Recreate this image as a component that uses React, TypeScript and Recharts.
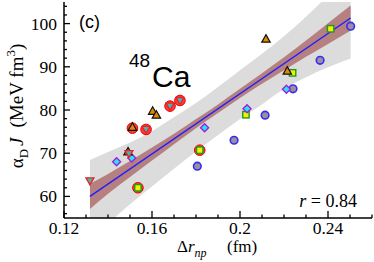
import React from "react";
import { ComposedChart, XAxis, YAxis, Area, Line, Scatter } from "recharts";

// axis ticks
const xTicks = [0.12, 0.13, 0.14, 0.15, 0.16, 0.17, 0.18, 0.19, 0.2, 0.21, 0.22, 0.23, 0.24, 0.25, 0.26];
const xMajor = [0.12, 0.16, 0.2, 0.24];
const yTicks = [56, 58, 60, 62, 64, 66, 68, 70, 72, 74, 76, 78, 80, 82, 84, 86, 88, 90, 92, 94, 96, 98, 100, 102, 104];
const yMajor = [60, 70, 80, 90, 100];

// confidence bands
const bandX = [0.1318, 0.14, 0.15, 0.16, 0.17, 0.18, 0.19, 0.2, 0.21, 0.22, 0.23, 0.24, 0.2503];
const greyLo = [50.0, 53.7, 58.2, 62.3, 66.4, 70.4, 74.2, 77.9, 81.3, 84.9, 87.6, 89.9, 91.9];
const greyHi = [68.4, 70.3, 72.5, 75.1, 78.3, 81.6, 85.3, 89.2, 93.0, 97.1, 101.6, 106.5, 111.5];
const brownLo = [57.1, 60.6, 64.5, 68.3, 72.1, 75.8, 79.3, 82.8, 86.1, 89.2, 92.3, 95.3, 98.4];
const brownHi = [62.9, 65.2, 68.2, 71.3, 74.5, 77.9, 81.3, 84.9, 88.5, 92.2, 96.1, 100.1, 104.2];

// linear fit
const fitX = [0.1318, 0.2503];
const fitY = [60.0, 101.3];

// models
const redRing = [
  { x: 0.1511, y: 75.8 }, { x: 0.1573, y: 75.5 }, { x: 0.1682, y: 80.9 },
  { x: 0.1727, y: 82.2 }, { x: 0.1536, y: 62.0 }, { x: 0.1817, y: 70.7 },
];
const blueCircles = [
  { x: 0.1806, y: 67.0 }, { x: 0.1973, y: 73.0 }, { x: 0.2114, y: 78.8 },
  { x: 0.2241, y: 84.9 }, { x: 0.2364, y: 91.5 }, { x: 0.2503, y: 99.4 },
];
const squares = [
  { x: 0.1536, y: 62.0 }, { x: 0.1817, y: 70.7 }, { x: 0.2027, y: 78.9 },
  { x: 0.2239, y: 88.6 }, { x: 0.2412, y: 98.8 },
];
const diamonds = [
  { x: 0.1439, y: 68.0 }, { x: 0.1508, y: 68.9 }, { x: 0.1839, y: 75.9 },
  { x: 0.2032, y: 80.3 }, { x: 0.2211, y: 84.8 },
];
const upTriangles = [
  { x: 0.1491, y: 70.3 }, { x: 0.1511, y: 76.0 }, { x: 0.1603, y: 79.7 },
  { x: 0.162, y: 78.8 }, { x: 0.2118, y: 96.4 }, { x: 0.2215, y: 89.0 },
];
const downTriangles = [
  { x: 0.1318, y: 63.6 }, { x: 0.1495, y: 69.9 }, { x: 0.1573, y: 75.5 },
  { x: 0.1682, y: 80.9 }, { x: 0.1727, y: 82.2 },
];

const bandRows = bandX.map((x, i) => ({
  x,
  grey: [greyLo[i], greyHi[i]],
  brown: [brownLo[i], brownHi[i]],
}));
const fitLine = fitX.map((x, i) => ({ x, y: fitY[i] }));

const serif = "'Liberation Serif', 'Times New Roman', serif";
const sans = "'Liberation Sans', Arial, sans-serif";

const isMajorX = (v: number) => xMajor.some((m) => Math.abs(m - v) < 1e-6);
const isMajorY = (v: number) => yMajor.includes(v);

const BottomTick = (p: any) => {
  const v = Number(p.payload.value);
  const major = isMajorX(v);
  return (
    <g>
      <line x1={p.x} x2={p.x} y1={p.y} y2={p.y - (major ? 7 : 3.5)} stroke="#000" strokeWidth={1.3} />
      {major && (
        <text x={p.x} y={p.y + 16} textAnchor="middle" style={{ fontFamily: serif }} fontSize={17.5} fill="#000">
          {String(+v.toFixed(2))}
        </text>
      )}
    </g>
  );
};

const TopTick = (p: any) => {
  const major = isMajorX(Number(p.payload.value));
  return <line x1={p.x} x2={p.x} y1={p.y} y2={p.y + (major ? 7 : 3.5)} stroke="#000" strokeWidth={1.3} />;
};

const LeftTick = (p: any) => {
  const v = Number(p.payload.value);
  const major = isMajorY(v);
  return (
    <g>
      <line x1={p.x} x2={p.x + (major ? 6 : 3)} y1={p.y} y2={p.y} stroke="#000" strokeWidth={1.3} />
      {major && (
        <text x={p.x - 7} y={p.y + 6} textAnchor="end" style={{ fontFamily: serif }} fontSize={17.5} fill="#000">
          {v}
        </text>
      )}
    </g>
  );
};

const RightTick = (p: any) => {
  const major = isMajorY(Number(p.payload.value));
  return <line x1={p.x} x2={p.x - (major ? 6 : 3)} y1={p.y} y2={p.y} stroke="#000" strokeWidth={1.3} />;
};

const RedRing = (p: any) => <circle cx={p.cx} cy={p.cy} r={5.3} fill="#ff3a3a" stroke="#e60000" strokeWidth={1} />;
const BlueCircle = (p: any) => <circle cx={p.cx} cy={p.cy} r={3.8} fill="#a08d9e" stroke="#2f2ff5" strokeWidth={1.6} />;
const Square = (p: any) => (
  <rect x={p.cx - 3.2} y={p.cy - 3.2} width={6.4} height={6.4} fill="#f2f200" stroke="#1f9a1f" strokeWidth={1.4} />
);
const Diamond = (p: any) => (
  <polygon
    points={`${p.cx},${p.cy - 4} ${p.cx + 4},${p.cy} ${p.cx},${p.cy + 4} ${p.cx - 4},${p.cy}`}
    fill="#22e8f0" stroke="#a020e0" strokeWidth={1.4}
  />
);
const UpTri = (p: any) => (
  <polygon
    points={`${p.cx},${p.cy - 4.5} ${p.cx + 4.2},${p.cy + 3} ${p.cx - 4.2},${p.cy + 3}`}
    fill="#e08a00" stroke="#111" strokeWidth={1.2}
  />
);
const DownTri = (p: any) => (
  <polygon
    points={`${p.cx - 4},${p.cy - 3} ${p.cx + 4},${p.cy - 3} ${p.cx},${p.cy + 4}`}
    fill="#3fb8b8" stroke="#f02020" strokeWidth={1.3}
  />
);

export default function App() {
  return (
    <div style={{ position: "absolute", left: 0, top: 0, width: 374, height: 262, background: "#fff" }}>
      <ComposedChart width={374} height={262} data={bandRows} margin={{ top: 2, right: 2, bottom: 0, left: 14 }}>
        <XAxis
          xAxisId="b" type="number" dataKey="x" domain={[0.12, 0.26]} ticks={xTicks} interval={0}
          allowDataOverflow height={44} tickSize={0} tickMargin={0} tickLine={false}
          axisLine={{ stroke: "#000", strokeWidth: 1.5 }} tick={BottomTick}
        />
        <XAxis
          xAxisId="t" orientation="top" type="number" dataKey="x" domain={[0.12, 0.26]} ticks={xTicks} interval={0}
          allowDataOverflow height={0} tickSize={0} tickMargin={0} tickLine={false}
          axisLine={{ stroke: "#000", strokeWidth: 1.5 }} tick={TopTick}
        />
        <YAxis
          yAxisId="l" type="number" dataKey="y" domain={[55, 105]} ticks={yTicks} interval={0}
          allowDataOverflow width={50} tickSize={0} tickMargin={0} tickLine={false}
          axisLine={{ stroke: "#000", strokeWidth: 1.5 }} tick={LeftTick}
        />
        <YAxis
          yAxisId="r" orientation="right" type="number" domain={[55, 105]} ticks={yTicks} interval={0}
          allowDataOverflow width={0} tickSize={0} tickMargin={0} tickLine={false}
          axisLine={{ stroke: "#000", strokeWidth: 1.5 }} tick={RightTick}
        />
        <Area xAxisId="b" yAxisId="l" dataKey="grey" type="monotone" fill="#dcdcdc" fillOpacity={1} stroke="none" isAnimationActive={false} />
        <Area xAxisId="b" yAxisId="l" dataKey="brown" type="monotone" fill="#b5807f" fillOpacity={1} stroke="none" isAnimationActive={false} />
        <Line xAxisId="b" yAxisId="l" data={fitLine} dataKey="y" stroke="#1f1fff" strokeWidth={1.4} dot={false} isAnimationActive={false} />
        <Scatter xAxisId="b" yAxisId="l" data={redRing} shape={RedRing} isAnimationActive={false} />
        <Scatter xAxisId="b" yAxisId="l" data={blueCircles} shape={BlueCircle} isAnimationActive={false} />
        <Scatter xAxisId="b" yAxisId="l" data={squares} shape={Square} isAnimationActive={false} />
        <Scatter xAxisId="b" yAxisId="l" data={diamonds} shape={Diamond} isAnimationActive={false} />
        <Scatter xAxisId="b" yAxisId="l" data={upTriangles} shape={UpTri} isAnimationActive={false} />
        <Scatter xAxisId="b" yAxisId="l" data={downTriangles} shape={DownTri} isAnimationActive={false} />
      </ComposedChart>
      <svg width={374} height={262} style={{ position: "absolute", left: 0, top: 0, pointerEvents: "none" }}>
        <text x={79} y={28} style={{ fontFamily: sans }} fontSize={18} fill="#000">(c)</text>
        <text x={129} y={67} style={{ fontFamily: sans }} fontSize={19} fill="#000">48</text>
        <text x={152} y={87} style={{ fontFamily: sans }} fontSize={30} fill="#000">Ca</text>
        <text x={357} y={207} textAnchor="end" style={{ fontFamily: serif }} fontSize={18} fill="#000">
          <tspan fontStyle="italic">r</tspan> = 0.84
        </text>
        <text x={177} y={252} style={{ fontFamily: serif }} fontSize={17} fill="#000">
          Δ<tspan fontStyle="italic">r</tspan>
          <tspan fontStyle="italic" fontSize={12} dy={5}>np</tspan>
          <tspan x={227} dy={-5}>(fm)</tspan>
        </text>
        <text transform="translate(23,106) rotate(-90)" textAnchor="middle" style={{ fontFamily: serif }} fontSize={19} fill="#000">
          α<tspan fontSize={13} dy={5}>D</tspan>
          <tspan dy={-5} dx={3} fontStyle="italic">J</tspan>
          <tspan dx={10}>(MeV fm</tspan>
          <tspan fontSize={13} dy={-8}>3</tspan>
          <tspan dy={8}>)</tspan>
        </text>
      </svg>
    </div>
  );
}
